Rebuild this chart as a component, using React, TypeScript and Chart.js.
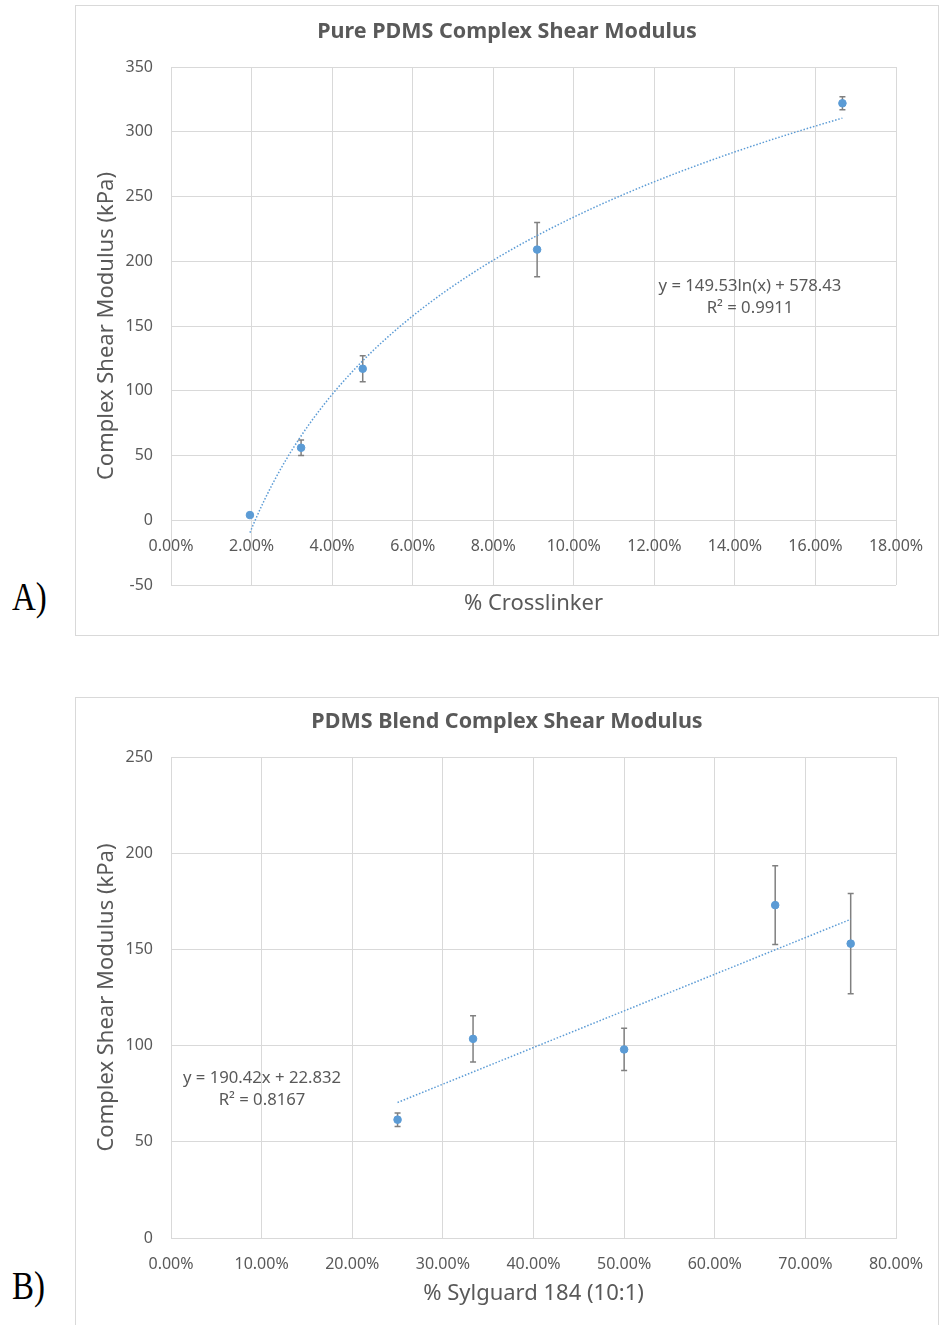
import React, { useEffect, useRef } from "react";
import { Chart, registerables } from "chart.js";

Chart.register(...registerables);

// Pure PDMS: crosslinker content (%) vs complex shear modulus (kPa)
const crosslinkerPct = [1.96, 3.23, 4.76, 9.09, 16.67];
const pureModulus = [4, 56, 117, 209, 322];
const pureModulusErr = [0, 6, 10, 21, 5];
// Logarithmic fit y = a ln(x) + b (x as a fraction)
const pureFitA = 149.53;
const pureFitB = 578.43;
const pureFitR2 = "0.9911";

// PDMS blends: Sylguard 184 content (%) vs complex shear modulus (kPa)
const sylguardPct = [25, 33.33, 50, 66.67, 75];
const blendModulus = [61.5, 103.5, 98, 173, 153];
const blendModulusErr = [3.5, 12, 11, 20.5, 26];
// Linear fit y = m x + c (x as a fraction)
const blendFitM = 190.42;
const blendFitC = 22.832;
const blendFitR2 = "0.8167";

// Axis ticks
const pureXTicks = { min: 0, max: 18, step: 2 };
const pureYTicks = { min: -50, max: 350, step: 50 };
const blendXTicks = { min: 0, max: 80, step: 10 };
const blendYTicks = { min: 0, max: 250, step: 50 };

const FONT = "'Noto Sans', 'Open Sans', sans-serif";
const TEXT = "#595959";
const GRID = "#d9d9d9";
const BLUE = "#5b9bd5";
const ERR = "#808080";

function fitCurve(xs: number[], f: (x: number) => number, n: number) {
  const lo = Math.min(...xs);
  const hi = Math.max(...xs);
  const pts: { x: number; y: number }[] = [];
  for (let i = 0; i <= n; i++) {
    const x = lo + ((hi - lo) * i) / n;
    pts.push({ x, y: f(x) });
  }
  return pts;
}

type Panel = {
  title: string;
  xTitle: string;
  yTitle: string;
  xs: number[];
  ys: number[];
  errs: number[];
  fit: { x: number; y: number }[];
  eq: string[];
  eqX: number;
  eqY: number;
  xTicks: { min: number; max: number; step: number };
  yTicks: { min: number; max: number; step: number };
  xAtZero: boolean;
  xLabelLineHeight: number;
  titleY: number;
  xTitleY: number;
  padTop: number;
  padBottom: number;
  xAxisHeight: number;
};

function buildConfig(p: Panel): any {
  const errorBars = {
    id: "errorBars",
    beforeDatasetsDraw(chart: any) {
      const { ctx } = chart;
      const sx = chart.scales.x;
      const sy = chart.scales.y;
      ctx.save();
      ctx.strokeStyle = ERR;
      ctx.lineWidth = 1.5;
      p.xs.forEach((xv, i) => {
        const e = p.errs[i];
        if (!e) return;
        const px = sx.getPixelForValue(xv);
        const t = sy.getPixelForValue(p.ys[i] + e);
        const b = sy.getPixelForValue(p.ys[i] - e);
        ctx.beginPath();
        ctx.moveTo(px, t);
        ctx.lineTo(px, b);
        ctx.moveTo(px - 3, t);
        ctx.lineTo(px + 3, t);
        ctx.moveTo(px - 3, b);
        ctx.lineTo(px + 3, b);
        ctx.stroke();
      });
      ctx.restore();
    },
  };

  const panelText = {
    id: "panelText",
    afterDraw(chart: any) {
      const { ctx, chartArea } = chart;
      ctx.save();
      ctx.fillStyle = TEXT;
      ctx.textAlign = "center";
      ctx.textBaseline = "middle";
      ctx.font = `bold 21.5px ${FONT}`;
      ctx.fillText(p.title, chart.width / 2, p.titleY);
      ctx.font = `22px ${FONT}`;
      ctx.fillText(p.xTitle, (chartArea.left + chartArea.right) / 2, p.xTitleY);
      ctx.font = `16.7px ${FONT}`;
      p.eq.forEach((line, i) => ctx.fillText(line, p.eqX, p.eqY + i * 22));
      ctx.restore();
    },
  };

  const tickFont = { family: FONT, size: 16 };

  return {
    type: "scatter",
    data: {
      datasets: [
        {
          label: "data",
          data: p.xs.map((x, i) => ({ x, y: p.ys[i] })),
          backgroundColor: BLUE,
          borderColor: BLUE,
          pointRadius: 3.8,
          pointHoverRadius: 3.8,
          showLine: false,
          order: 2,
        },
        {
          label: "fit",
          data: p.fit,
          showLine: true,
          borderColor: BLUE,
          borderWidth: 1.5,
          borderDash: [1.5, 1.8],
          pointRadius: 0,
          fill: false,
          tension: 0,
          order: 1,
        },
      ],
    },
    options: {
      animation: false,
      responsive: false,
      devicePixelRatio: 1,
      layout: { padding: { top: p.padTop, right: 42, bottom: p.padBottom, left: 0 } },
      plugins: {
        legend: { display: false },
        tooltip: { enabled: false },
        title: { display: false },
      },
      scales: {
        x: {
          type: "linear",
          min: p.xTicks.min,
          max: p.xTicks.max,
          position: p.xAtZero ? { y: 0 } : "bottom",
          ticks: {
            stepSize: p.xTicks.step,
            color: TEXT,
            font: { ...tickFont, lineHeight: p.xLabelLineHeight },
            padding: 12,
            maxRotation: 0,
            autoSkip: false,
            callback: (v: number) => Number(v).toFixed(2) + "%",
          },
          grid: { color: GRID, lineWidth: 1, drawTicks: false },
          border: { color: GRID },
          afterFit: (s: any) => {
            if (!p.xAtZero) s.height = p.xAxisHeight;
          },
        },
        y: {
          type: "linear",
          min: p.yTicks.min,
          max: p.yTicks.max,
          ticks: {
            stepSize: p.yTicks.step,
            color: TEXT,
            font: tickFont,
            padding: 18,
          },
          grid: { color: GRID, lineWidth: 1, drawTicks: false },
          border: { color: GRID },
          title: {
            display: true,
            text: p.yTitle,
            color: TEXT,
            font: { family: FONT, size: 22 },
            padding: { top: 18, bottom: 0 },
          },
          afterFit: (s: any) => {
            s.width = 95;
          },
        },
      },
    },
    plugins: [errorBars, panelText],
  };
}

const purePanel: Panel = {
  title: "Pure PDMS Complex Shear Modulus",
  xTitle: "% Crosslinker",
  yTitle: "Complex Shear Modulus (kPa)",
  xs: crosslinkerPct,
  ys: pureModulus,
  errs: pureModulusErr,
  fit: fitCurve(crosslinkerPct, (x) => pureFitA * Math.log(x / 100) + pureFitB, 120),
  eq: [`y = ${pureFitA}ln(x) + ${pureFitB}`, `R² = ${pureFitR2}`],
  eqX: 674,
  eqY: 280,
  xTicks: pureXTicks,
  yTicks: pureYTicks,
  xAtZero: true,
  xLabelLineHeight: 1.75,
  titleY: 26,
  xTitleY: 598,
  padTop: 61,
  padBottom: 50,
  xAxisHeight: 0,
};

const blendPanel: Panel = {
  title: "PDMS Blend Complex Shear Modulus",
  xTitle: "% Sylguard 184 (10:1)",
  yTitle: "Complex Shear Modulus (kPa)",
  xs: sylguardPct,
  ys: blendModulus,
  errs: blendModulusErr,
  fit: fitCurve(sylguardPct, (x) => blendFitM * (x / 100) + blendFitC, 2),
  eq: [`y = ${blendFitM}x + ${blendFitC}`, `R² = ${blendFitR2}`],
  eqX: 186,
  eqY: 380,
  xTicks: blendXTicks,
  yTicks: blendYTicks,
  xAtZero: false,
  xLabelLineHeight: 1.85,
  titleY: 24,
  xTitleY: 596,
  padTop: 59,
  padBottom: 0,
  xAxisHeight: 87,
};

function ChartBox(props: { panel: Panel; top: number; boxHeight: number; canvasHeight: number }) {
  const ref = useRef<HTMLCanvasElement | null>(null);
  useEffect(() => {
    if (!ref.current) return;
    const chart = new Chart(ref.current, buildConfig(props.panel));
    return () => chart.destroy();
  }, [props.panel]);
  return (
    <div
      style={{
        position: "absolute",
        left: 75,
        top: props.top,
        width: 864,
        height: props.boxHeight,
        border: `1px solid ${GRID}`,
        boxSizing: "border-box",
        background: "#fff",
      }}
    >
      <canvas
        ref={ref}
        width={862}
        height={props.canvasHeight}
        style={{ display: "block", width: 862, height: props.canvasHeight }}
      />
    </div>
  );
}

const panelLabel: React.CSSProperties = {
  position: "absolute",
  left: 12,
  fontFamily: "'Liberation Serif', 'DejaVu Serif', serif",
  fontSize: 33,
  lineHeight: 1,
  color: "#000",
  transform: "scaleY(1.2)",
  transformOrigin: "top left",
};

export default function App() {
  return (
    <div
      style={{
        position: "absolute",
        left: 0,
        top: 0,
        width: 940,
        height: 1325,
        overflow: "hidden",
        background: "#fff",
      }}
    >
      <ChartBox panel={purePanel} top={5} boxHeight={631} canvasHeight={629} />
      <span style={{ ...panelLabel, top: 578 }}>A)</span>
      <ChartBox panel={blendPanel} top={697} boxHeight={640} canvasHeight={627} />
      <span style={{ ...panelLabel, top: 1267 }}>B)</span>
    </div>
  );
}
